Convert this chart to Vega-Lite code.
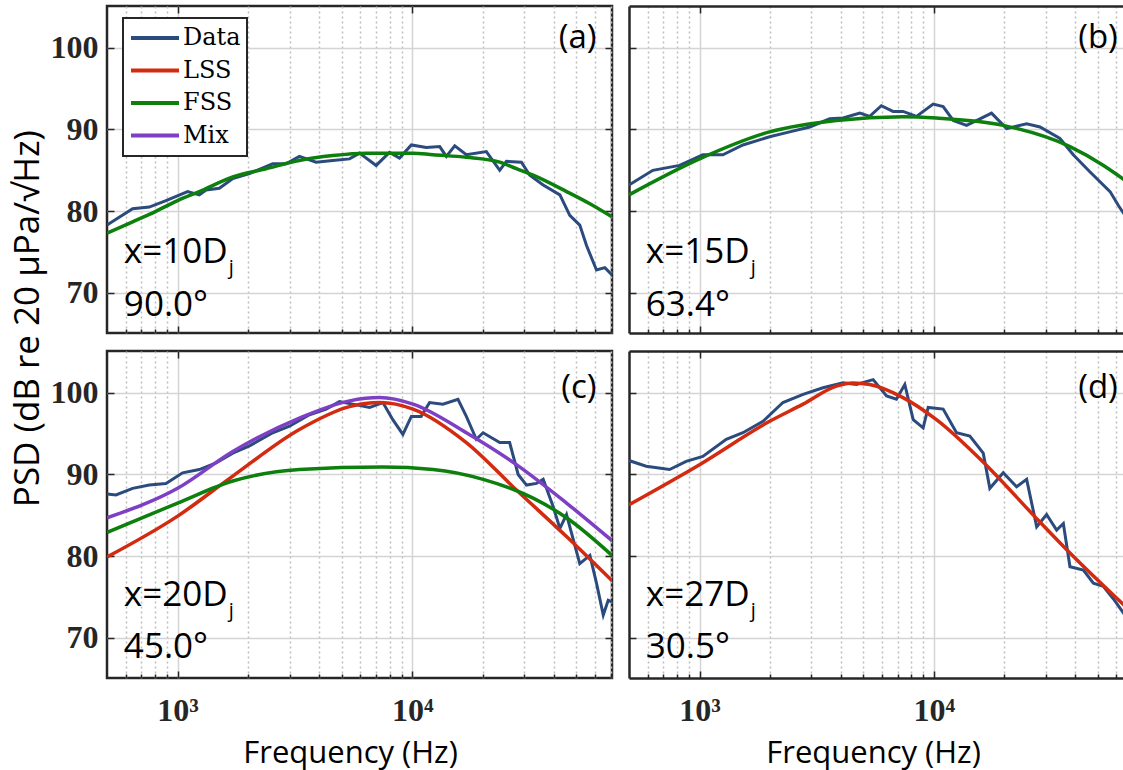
{
  "$schema": "https://vega.github.io/schema/vega-lite/v6.json",
  "padding": {"left": 10, "top": 4, "right": 0, "bottom": 0},
  "background": "white",
  "title": {"text": "PSD (dB re 20 μPa/√Hz)", "orient": "left", "anchor": "middle", "font": "Open Sans", "fontSize": 35, "fontWeight": "normal", "color": "black", "offset": 3, "dx": 68},
  "datasets": {
    "a": [
      {"s":"Data","f":500,"p":78.3},{"s":"Data","f":643,"p":80.3},{"s":"Data","f":757,"p":80.5},{"s":"Data","f":892,"p":81.3},{"s":"Data","f":1103,"p":82.4},{"s":"Data","f":1237,"p":82.0},{"s":"Data","f":1321,"p":82.6},{"s":"Data","f":1506,"p":82.8},{"s":"Data","f":1718,"p":84.0},{"s":"Data","f":2024,"p":84.6},{"s":"Data","f":2543,"p":85.8},{"s":"Data","f":2898,"p":85.8},{"s":"Data","f":3303,"p":86.7},{"s":"Data","f":3890,"p":86.0},{"s":"Data","f":4581,"p":86.2},{"s":"Data","f":5404,"p":86.4},{"s":"Data","f":5960,"p":87.1},{"s":"Data","f":7015,"p":85.6},{"s":"Data","f":7998,"p":87.2},{"s":"Data","f":8827,"p":86.5},{"s":"Data","f":9909,"p":88.1},{"s":"Data","f":11480,"p":87.8},{"s":"Data","f":13090,"p":87.9},{"s":"Data","f":13970,"p":86.7},{"s":"Data","f":15170,"p":88.0},{"s":"Data","f":17000,"p":86.9},{"s":"Data","f":20690,"p":87.3},{"s":"Data","f":23590,"p":85.0},{"s":"Data","f":25180,"p":86.1},{"s":"Data","f":29190,"p":86.0},{"s":"Data","f":31690,"p":84.4},{"s":"Data","f":36130,"p":83.2},{"s":"Data","f":42580,"p":82.0},{"s":"Data","f":46920,"p":79.5},{"s":"Data","f":51750,"p":78.3},{"s":"Data","f":55300,"p":75.8},{"s":"Data","f":60980,"p":72.8},{"s":"Data","f":66200,"p":73.1},{"s":"Data","f":71000,"p":72.2},
      {"s":"FSS","f":500,"p":77.3},{"s":"FSS","f":643,"p":78.7},{"s":"FSS","f":757,"p":79.6},{"s":"FSS","f":1000,"p":81.3},{"s":"FSS","f":1237,"p":82.4},{"s":"FSS","f":1718,"p":84.2},{"s":"FSS","f":2382,"p":85.2},{"s":"FSS","f":3303,"p":86.2},{"s":"FSS","f":4581,"p":86.8},{"s":"FSS","f":6362,"p":87.1},{"s":"FSS","f":10070,"p":87.1},{"s":"FSS","f":12250,"p":86.9},{"s":"FSS","f":17000,"p":86.6},{"s":"FSS","f":23590,"p":86.0},{"s":"FSS","f":27790,"p":85.2},{"s":"FSS","f":32750,"p":84.4},{"s":"FSS","f":45440,"p":82.4},{"s":"FSS","f":57150,"p":80.9},{"s":"FSS","f":71000,"p":79.3}
    ],
    "b": [
      {"s":"Data","f":500,"p":83.2},{"s":"Data","f":632,"p":85.0},{"s":"Data","f":822,"p":85.6},{"s":"Data","f":1033,"p":86.9},{"s":"Data","f":1258,"p":86.9},{"s":"Data","f":1532,"p":88.1},{"s":"Data","f":1991,"p":89.1},{"s":"Data","f":2425,"p":89.7},{"s":"Data","f":2953,"p":90.3},{"s":"Data","f":3596,"p":91.3},{"s":"Data","f":4101,"p":91.4},{"s":"Data","f":4832,"p":92.0},{"s":"Data","f":5325,"p":91.6},{"s":"Data","f":5971,"p":92.9},{"s":"Data","f":6694,"p":92.2},{"s":"Data","f":7388,"p":92.2},{"s":"Data","f":8433,"p":91.6},{"s":"Data","f":9934,"p":93.1},{"s":"Data","f":10960,"p":92.8},{"s":"Data","f":12100,"p":91.1},{"s":"Data","f":13800,"p":90.5},{"s":"Data","f":15740,"p":91.3},{"s":"Data","f":17630,"p":92.0},{"s":"Data","f":20450,"p":90.1},{"s":"Data","f":24900,"p":90.7},{"s":"Data","f":28390,"p":90.3},{"s":"Data","f":34540,"p":88.9},{"s":"Data","f":39370,"p":86.9},{"s":"Data","f":46430,"p":84.8},{"s":"Data","f":56520,"p":82.4},{"s":"Data","f":61340,"p":80.7},{"s":"Data","f":66100,"p":79.3},
      {"s":"FSS","f":500,"p":82.0},{"s":"FSS","f":1000,"p":86.4},{"s":"FSS","f":1991,"p":89.7},{"s":"FSS","f":3838,"p":91.1},{"s":"FSS","f":7388,"p":91.55},{"s":"FSS","f":10260,"p":91.4},{"s":"FSS","f":19780,"p":90.5},{"s":"FSS","f":38110,"p":87.9},{"s":"FSS","f":52980,"p":85.6},{"s":"FSS","f":66100,"p":83.7}
    ],
    "c": [
      {"s":"Data","f":500,"p":87.6},{"s":"Data","f":546,"p":87.5},{"s":"Data","f":643,"p":88.3},{"s":"Data","f":757,"p":88.7},{"s":"Data","f":892,"p":88.9},{"s":"Data","f":1050,"p":90.2},{"s":"Data","f":1237,"p":90.6},{"s":"Data","f":1458,"p":91.4},{"s":"Data","f":1718,"p":92.6},{"s":"Data","f":2024,"p":93.5},{"s":"Data","f":2543,"p":95.1},{"s":"Data","f":2997,"p":95.9},{"s":"Data","f":3646,"p":97.3},{"s":"Data","f":4296,"p":98.0},{"s":"Data","f":4897,"p":98.9},{"s":"Data","f":5584,"p":98.6},{"s":"Data","f":6580,"p":98.2},{"s":"Data","f":7498,"p":98.8},{"s":"Data","f":8262,"p":96.7},{"s":"Data","f":9120,"p":94.9},{"s":"Data","f":9909,"p":97.1},{"s":"Data","f":10910,"p":97.1},{"s":"Data","f":11850,"p":98.8},{"s":"Data","f":13510,"p":98.6},{"s":"Data","f":15660,"p":99.2},{"s":"Data","f":17000,"p":97.1},{"s":"Data","f":18750,"p":94.3},{"s":"Data","f":20040,"p":95.1},{"s":"Data","f":23590,"p":93.9},{"s":"Data","f":26000,"p":93.9},{"s":"Data","f":28270,"p":90.0},{"s":"Data","f":30690,"p":88.7},{"s":"Data","f":33830,"p":88.9},{"s":"Data","f":36130,"p":89.4},{"s":"Data","f":39810,"p":86.1},{"s":"Data","f":42580,"p":83.4},{"s":"Data","f":45440,"p":85.1},{"s":"Data","f":51750,"p":79.1},{"s":"Data","f":57150,"p":80.1},{"s":"Data","f":60980,"p":76.7},{"s":"Data","f":65170,"p":72.8},{"s":"Data","f":68410,"p":74.6},{"s":"Data","f":71000,"p":74.4},
      {"s":"LSS","f":500,"p":79.9},{"s":"LSS","f":1000,"p":84.9},{"s":"LSS","f":1718,"p":89.8},{"s":"LSS","f":3303,"p":95.5},{"s":"LSS","f":5404,"p":98.3},{"s":"LSS","f":7258,"p":98.8},{"s":"LSS","f":10070,"p":98.0},{"s":"LSS","f":17000,"p":93.9},{"s":"LSS","f":27790,"p":88.1},{"s":"LSS","f":45440,"p":82.4},{"s":"LSS","f":71000,"p":77.0},
      {"s":"FSS","f":500,"p":82.9},{"s":"FSS","f":1000,"p":86.5},{"s":"FSS","f":1718,"p":89.2},{"s":"FSS","f":3303,"p":90.6},{"s":"FSS","f":7498,"p":90.9},{"s":"FSS","f":12250,"p":90.6},{"s":"FSS","f":20040,"p":89.4},{"s":"FSS","f":32750,"p":87.1},{"s":"FSS","f":45440,"p":84.7},{"s":"FSS","f":71000,"p":80.1},
      {"s":"Mix","f":500,"p":84.7},{"s":"Mix","f":1000,"p":88.3},{"s":"Mix","f":1718,"p":92.8},{"s":"Mix","f":3303,"p":96.9},{"s":"Mix","f":5404,"p":99.0},{"s":"Mix","f":7258,"p":99.4},{"s":"Mix","f":10070,"p":98.6},{"s":"Mix","f":17000,"p":95.1},{"s":"Mix","f":27790,"p":91.2},{"s":"Mix","f":45440,"p":86.5},{"s":"Mix","f":71000,"p":81.9}
    ],
    "d": [
      {"s":"Data","f":500,"p":91.7},{"s":"Data","f":592,"p":91.0},{"s":"Data","f":745,"p":90.6},{"s":"Data","f":877,"p":91.6},{"s":"Data","f":1033,"p":92.2},{"s":"Data","f":1300,"p":94.3},{"s":"Data","f":1532,"p":95.1},{"s":"Data","f":1866,"p":96.5},{"s":"Data","f":2270,"p":98.8},{"s":"Data","f":2767,"p":99.8},{"s":"Data","f":3366,"p":100.6},{"s":"Data","f":4101,"p":101.2},{"s":"Data","f":4672,"p":101.0},{"s":"Data","f":5510,"p":101.6},{"s":"Data","f":6285,"p":99.6},{"s":"Data","f":6924,"p":99.2},{"s":"Data","f":7518,"p":101.0},{"s":"Data","f":8164,"p":96.7},{"s":"Data","f":9003,"p":95.7},{"s":"Data","f":9458,"p":98.2},{"s":"Data","f":10960,"p":98.0},{"s":"Data","f":12500,"p":95.1},{"s":"Data","f":14250,"p":94.7},{"s":"Data","f":16250,"p":92.6},{"s":"Data","f":17340,"p":88.3},{"s":"Data","f":19780,"p":90.2},{"s":"Data","f":22550,"p":88.5},{"s":"Data","f":24900,"p":89.4},{"s":"Data","f":27480,"p":83.6},{"s":"Data","f":30290,"p":85.1},{"s":"Data","f":33430,"p":83.2},{"s":"Data","f":35710,"p":84.0},{"s":"Data","f":38110,"p":78.7},{"s":"Data","f":43480,"p":78.3},{"s":"Data","f":47980,"p":76.7},{"s":"Data","f":52980,"p":76.3},{"s":"Data","f":58340,"p":74.8},{"s":"Data","f":66100,"p":72.6},
      {"s":"LSS","f":500,"p":86.3},{"s":"LSS","f":1000,"p":91.2},{"s":"LSS","f":1991,"p":96.5},{"s":"LSS","f":2767,"p":98.6},{"s":"LSS","f":3838,"p":100.8},{"s":"LSS","f":4517,"p":101.2},{"s":"LSS","f":5325,"p":101.0},{"s":"LSS","f":7388,"p":99.4},{"s":"LSS","f":10260,"p":96.7},{"s":"LSS","f":16790,"p":91.1},{"s":"LSS","f":27480,"p":84.6},{"s":"LSS","f":38110,"p":80.4},{"s":"LSS","f":66100,"p":73.8}
    ],
    "notes": [
      {"k":"a","pos":"x=10D","sub":"j","ang":"90.0°","tag":"(a)"},
      {"k":"b","pos":"x=15D","sub":"j","ang":"63.4°","tag":"(b)"},
      {"k":"c","pos":"x=20D","sub":"j","ang":"45.0°","tag":"(c)"},
      {"k":"d","pos":"x=27D","sub":"j","ang":"30.5°","tag":"(d)"}
    ]
  },
  "spacing": 14,
  "vconcat": [
    {
      "spacing": 14,
      "resolve": {"legend": {"color": "independent"}},
      "hconcat": [
        {
          "width": 505, "height": 327,
          "view": {"stroke": "#262626", "strokeWidth": 2.5},
          "resolve": {"axis": {"x": "independent", "y": "independent"}},
          "layer": [
            {
              "data": {"name": "a"},
              "transform": [{"filter": "datum.s === 'Data'"}],
              "mark": {"type": "line", "strokeWidth": 3, "clip": true},
              "encoding": {
                "x": {"field": "f", "type": "quantitative", "scale": {"type": "log", "domain": [500, 71000], "nice": false},
                  "axis": {"orient": "bottom", "values": [1000, 10000], "grid": true, "gridColor": "#d4d4d4", "gridWidth": 1.5, "tickSize": -7, "labels": false, "domain": false, "title": null}},
                "y": {"field": "p", "type": "quantitative", "scale": {"domain": [65.1, 105.1], "nice": false, "zero": false},
                  "axis": {"orient": "left", "values": [70, 80, 90, 100], "grid": true, "gridColor": "#d4d4d4", "gridWidth": 1.5, "tickSize": -7, "labels": true, "labelFont": "Liberation Serif", "labelFontWeight": "bold", "labelFontSize": 32, "labelPadding": 16, "domain": false, "title": null}},
                "color": {"field": "s", "type": "nominal",
                  "scale": {"domain": ["Data", "LSS", "FSS", "Mix"], "range": ["#2b4a7e", "#d22b10", "#0c7f0c", "#7d3fc4"]},
                  "legend": {"orient": "none", "legendX": 16, "legendY": 12, "title": null, "symbolType": "stroke", "symbolStrokeWidth": 4, "symbolSize": 2304, "clipHeight": 28, "rowPadding": 4.5, "labelFont": "DejaVu Serif", "labelFontSize": 24, "labelColor": "black", "labelOffset": 2, "strokeColor": "#262626", "fillColor": "white", "padding": 6, "cornerRadius": 0}}
              }
            },
            {
              "data": {"name": "a"},
              "transform": [{"filter": "datum.s !== 'Data'"}],
              "mark": {"type": "line", "strokeWidth": 3.5, "clip": true, "interpolate": "monotone"},
              "encoding": {
                "x": {"field": "f", "type": "quantitative", "scale": {"type": "log", "domain": [500, 71000], "nice": false},
                  "axis": {"orient": "bottom", "values": [600, 700, 800, 900, 2000, 3000, 4000, 5000, 6000, 7000, 8000, 9000, 20000, 30000, 40000, 50000, 60000, 70000], "grid": true, "gridColor": "#bdbdbd", "gridDash": [2, 3], "gridWidth": 1.5, "tickSize": -4, "labels": false, "domain": false, "title": null}},
                "y": {"field": "p", "type": "quantitative", "scale": {"domain": [65.1, 105.1], "nice": false, "zero": false},
                  "axis": {"orient": "right", "values": [70, 80, 90, 100], "grid": false, "tickSize": -7, "labels": false, "domain": false, "title": null}},
                "color": {"field": "s", "type": "nominal", "scale": {"domain": ["Data", "LSS", "FSS", "Mix"], "range": ["#2b4a7e", "#d22b10", "#0c7f0c", "#7d3fc4"]}, "legend": null}
              }
            },
            {
              "data": {"values": []},
              "mark": {"type": "point"},
              "encoding": {
                "x": {"field": "f", "type": "quantitative", "scale": {"type": "log", "domain": [500, 71000], "nice": false},
                  "axis": {"orient": "top", "values": [1000, 10000], "grid": false, "tickSize": -7, "labels": false, "domain": false, "title": null}},
                "y": {"field": "p", "type": "quantitative", "scale": {"domain": [65.1, 105.1], "nice": false, "zero": false}, "axis": null}
              }
            },
            {
              "data": {"name": "notes"},
              "transform": [{"filter": "datum.k === 'a'"}],
              "layer": [
                {"mark": {"type": "text", "font": "Open Sans", "fontSize": 35, "align": "left", "baseline": "alphabetic", "color": "black"},
                  "encoding": {"x": {"datum": 590, "type": "quantitative", "axis": null}, "y": {"datum": 73.7, "type": "quantitative", "axis": null}, "text": {"field": "pos"}}},
                {"mark": {"type": "text", "font": "Open Sans", "fontSize": 20, "align": "left", "baseline": "alphabetic", "color": "black", "dx": 105, "dy": 11},
                  "encoding": {"x": {"datum": 590, "type": "quantitative", "axis": null}, "y": {"datum": 73.7, "type": "quantitative", "axis": null}, "text": {"field": "sub"}}},
                {"mark": {"type": "text", "font": "Open Sans", "fontSize": 35, "align": "left", "baseline": "alphabetic", "color": "black"},
                  "encoding": {"x": {"datum": 590, "type": "quantitative", "axis": null}, "y": {"datum": 67.2, "type": "quantitative", "axis": null}, "text": {"field": "ang"}}},
                {"mark": {"type": "text", "font": "Open Sans", "fontSize": 33, "align": "right", "baseline": "alphabetic", "color": "black"},
                  "encoding": {"x": {"datum": 61000, "type": "quantitative", "axis": null}, "y": {"datum": 100.0, "type": "quantitative", "axis": null}, "text": {"field": "tag"}}}
              ]
            }
          ]
        },
        {
          "width": 497, "height": 327,
          "view": {"stroke": null},
          "resolve": {"axis": {"x": "independent", "y": "independent"}},
          "layer": [
            {
              "data": {"name": "b"},
              "transform": [{"filter": "datum.s === 'Data'"}],
              "mark": {"type": "line", "strokeWidth": 3, "clip": true},
              "encoding": {
                "x": {"field": "f", "type": "quantitative", "scale": {"type": "log", "domain": [500, 66100], "nice": false},
                  "axis": {"orient": "bottom", "values": [1000, 10000], "grid": true, "gridColor": "#d4d4d4", "gridWidth": 1.5, "tickSize": -7, "labels": false, "domain": true, "domainColor": "#262626", "domainWidth": 2.5, "title": null}},
                "y": {"field": "p", "type": "quantitative", "scale": {"domain": [65.1, 105.1], "nice": false, "zero": false},
                  "axis": {"orient": "left", "values": [70, 80, 90, 100], "grid": true, "gridColor": "#d4d4d4", "gridWidth": 1.5, "tickSize": -7, "labels": false, "domain": true, "domainColor": "#262626", "domainWidth": 2.5, "title": null}},
                "color": {"field": "s", "type": "nominal", "scale": {"domain": ["Data", "LSS", "FSS", "Mix"], "range": ["#2b4a7e", "#d22b10", "#0c7f0c", "#7d3fc4"]}, "legend": null}
              }
            },
            {
              "data": {"name": "b"},
              "transform": [{"filter": "datum.s !== 'Data'"}],
              "mark": {"type": "line", "strokeWidth": 3.5, "clip": true, "interpolate": "monotone"},
              "encoding": {
                "x": {"field": "f", "type": "quantitative", "scale": {"type": "log", "domain": [500, 66100], "nice": false},
                  "axis": {"orient": "bottom", "values": [600, 700, 800, 900, 2000, 3000, 4000, 5000, 6000, 7000, 8000, 9000, 20000, 30000, 40000, 50000, 60000], "grid": true, "gridColor": "#bdbdbd", "gridDash": [2, 3], "gridWidth": 1.5, "tickSize": -4, "labels": false, "domain": false, "title": null}},
                "y": {"field": "p", "type": "quantitative", "scale": {"domain": [65.1, 105.1], "nice": false, "zero": false}, "axis": null},
                "color": {"field": "s", "type": "nominal", "scale": {"domain": ["Data", "LSS", "FSS", "Mix"], "range": ["#2b4a7e", "#d22b10", "#0c7f0c", "#7d3fc4"]}, "legend": null}
              }
            },
            {
              "data": {"values": []},
              "mark": {"type": "point"},
              "encoding": {
                "x": {"field": "f", "type": "quantitative", "scale": {"type": "log", "domain": [500, 66100], "nice": false},
                  "axis": {"orient": "top", "values": [1000, 10000], "grid": false, "tickSize": -7, "labels": false, "domain": true, "domainColor": "#262626", "domainWidth": 2.5, "title": null}},
                "y": {"field": "p", "type": "quantitative", "scale": {"domain": [65.1, 105.1], "nice": false, "zero": false}, "axis": null}
              }
            },
            {
              "data": {"name": "notes"},
              "transform": [{"filter": "datum.k === 'b'"}],
              "layer": [
                {"mark": {"type": "text", "font": "Open Sans", "fontSize": 35, "align": "left", "baseline": "alphabetic", "color": "black"},
                  "encoding": {"x": {"datum": 590, "type": "quantitative", "axis": null}, "y": {"datum": 73.7, "type": "quantitative", "axis": null}, "text": {"field": "pos"}}},
                {"mark": {"type": "text", "font": "Open Sans", "fontSize": 20, "align": "left", "baseline": "alphabetic", "color": "black", "dx": 105, "dy": 11},
                  "encoding": {"x": {"datum": 590, "type": "quantitative", "axis": null}, "y": {"datum": 73.7, "type": "quantitative", "axis": null}, "text": {"field": "sub"}}},
                {"mark": {"type": "text", "font": "Open Sans", "fontSize": 35, "align": "left", "baseline": "alphabetic", "color": "black"},
                  "encoding": {"x": {"datum": 590, "type": "quantitative", "axis": null}, "y": {"datum": 67.2, "type": "quantitative", "axis": null}, "text": {"field": "ang"}}},
                {"mark": {"type": "text", "font": "Open Sans", "fontSize": 33, "align": "right", "baseline": "alphabetic", "color": "black"},
                  "encoding": {"x": {"datum": 61000, "type": "quantitative", "axis": null}, "y": {"datum": 100.0, "type": "quantitative", "axis": null}, "text": {"field": "tag"}}}
              ]
            }
          ]
        }
      ]
    },
    {
      "spacing": 14,
      "hconcat": [
        {
          "width": 505, "height": 327,
          "view": {"stroke": "#262626", "strokeWidth": 2.5},
          "resolve": {"axis": {"x": "independent", "y": "independent"}},
          "layer": [
            {
              "data": {"name": "c"},
              "transform": [{"filter": "datum.s === 'Data'"}],
              "mark": {"type": "line", "strokeWidth": 3, "clip": true},
              "encoding": {
                "x": {"field": "f", "type": "quantitative", "scale": {"type": "log", "domain": [500, 71000], "nice": false},
                  "axis": {"orient": "bottom", "values": [1000, 10000], "grid": true, "gridColor": "#d4d4d4", "gridWidth": 1.5, "tickSize": -7, "labels": true, "labelExpr": "datum.value < 5000 ? '10³' : '10⁴'", "labelFont": "Liberation Serif", "labelFontWeight": "bold", "labelFontSize": 32, "labelPadding": 24, "domain": false,
                    "title": "Frequency (Hz)", "titleFont": "Open Sans", "titleFontSize": 31, "titleFontWeight": "normal", "titleColor": "black", "titleX": 243, "titleY": 84, "titleBaseline": "alphabetic", "titleAlign": "center"}},
                "y": {"field": "p", "type": "quantitative", "scale": {"domain": [65.1, 105.1], "nice": false, "zero": false},
                  "axis": {"orient": "left", "values": [70, 80, 90, 100], "grid": true, "gridColor": "#d4d4d4", "gridWidth": 1.5, "tickSize": -7, "labels": true, "labelFont": "Liberation Serif", "labelFontWeight": "bold", "labelFontSize": 32, "labelPadding": 16, "domain": false, "title": null}},
                "color": {"field": "s", "type": "nominal", "scale": {"domain": ["Data", "LSS", "FSS", "Mix"], "range": ["#2b4a7e", "#d22b10", "#0c7f0c", "#7d3fc4"]}, "legend": null}
              }
            },
            {
              "data": {"name": "c"},
              "transform": [{"filter": "datum.s !== 'Data'"}],
              "mark": {"type": "line", "strokeWidth": 3.5, "clip": true, "interpolate": "monotone"},
              "encoding": {
                "x": {"field": "f", "type": "quantitative", "scale": {"type": "log", "domain": [500, 71000], "nice": false},
                  "axis": {"orient": "bottom", "values": [600, 700, 800, 900, 2000, 3000, 4000, 5000, 6000, 7000, 8000, 9000, 20000, 30000, 40000, 50000, 60000, 70000], "grid": true, "gridColor": "#bdbdbd", "gridDash": [2, 3], "gridWidth": 1.5, "tickSize": -4, "labels": false, "domain": false, "title": null}},
                "y": {"field": "p", "type": "quantitative", "scale": {"domain": [65.1, 105.1], "nice": false, "zero": false},
                  "axis": {"orient": "right", "values": [70, 80, 90, 100], "grid": false, "tickSize": -7, "labels": false, "domain": false, "title": null}},
                "color": {"field": "s", "type": "nominal", "scale": {"domain": ["Data", "LSS", "FSS", "Mix"], "range": ["#2b4a7e", "#d22b10", "#0c7f0c", "#7d3fc4"]}, "legend": null}
              }
            },
            {
              "data": {"values": []},
              "mark": {"type": "point"},
              "encoding": {
                "x": {"field": "f", "type": "quantitative", "scale": {"type": "log", "domain": [500, 71000], "nice": false},
                  "axis": {"orient": "top", "values": [1000, 10000], "grid": false, "tickSize": -7, "labels": false, "domain": false, "title": null}},
                "y": {"field": "p", "type": "quantitative", "scale": {"domain": [65.1, 105.1], "nice": false, "zero": false}, "axis": null}
              }
            },
            {
              "data": {"name": "notes"},
              "transform": [{"filter": "datum.k === 'c'"}],
              "layer": [
                {"mark": {"type": "text", "font": "Open Sans", "fontSize": 35, "align": "left", "baseline": "alphabetic", "color": "black"},
                  "encoding": {"x": {"datum": 590, "type": "quantitative", "axis": null}, "y": {"datum": 73.9, "type": "quantitative", "axis": null}, "text": {"field": "pos"}}},
                {"mark": {"type": "text", "font": "Open Sans", "fontSize": 20, "align": "left", "baseline": "alphabetic", "color": "black", "dx": 105, "dy": 11},
                  "encoding": {"x": {"datum": 590, "type": "quantitative", "axis": null}, "y": {"datum": 73.9, "type": "quantitative", "axis": null}, "text": {"field": "sub"}}},
                {"mark": {"type": "text", "font": "Open Sans", "fontSize": 35, "align": "left", "baseline": "alphabetic", "color": "black"},
                  "encoding": {"x": {"datum": 590, "type": "quantitative", "axis": null}, "y": {"datum": 67.6, "type": "quantitative", "axis": null}, "text": {"field": "ang"}}},
                {"mark": {"type": "text", "font": "Open Sans", "fontSize": 33, "align": "right", "baseline": "alphabetic", "color": "black"},
                  "encoding": {"x": {"datum": 61000, "type": "quantitative", "axis": null}, "y": {"datum": 99.3, "type": "quantitative", "axis": null}, "text": {"field": "tag"}}}
              ]
            }
          ]
        },
        {
          "width": 497, "height": 327,
          "view": {"stroke": null},
          "resolve": {"axis": {"x": "independent", "y": "independent"}},
          "layer": [
            {
              "data": {"name": "d"},
              "transform": [{"filter": "datum.s === 'Data'"}],
              "mark": {"type": "line", "strokeWidth": 3, "clip": true},
              "encoding": {
                "x": {"field": "f", "type": "quantitative", "scale": {"type": "log", "domain": [500, 66100], "nice": false},
                  "axis": {"orient": "bottom", "values": [1000, 10000], "grid": true, "gridColor": "#d4d4d4", "gridWidth": 1.5, "tickSize": -7, "labels": true, "labelExpr": "datum.value < 5000 ? '10³' : '10⁴'", "labelFont": "Liberation Serif", "labelFontWeight": "bold", "labelFontSize": 32, "labelPadding": 24, "domain": true, "domainColor": "#262626", "domainWidth": 2.5,
                    "title": "Frequency (Hz)", "titleFont": "Open Sans", "titleFontSize": 31, "titleFontWeight": "normal", "titleColor": "black", "titleX": 244, "titleY": 84, "titleBaseline": "alphabetic", "titleAlign": "center"}},
                "y": {"field": "p", "type": "quantitative", "scale": {"domain": [65.1, 105.1], "nice": false, "zero": false},
                  "axis": {"orient": "left", "values": [70, 80, 90, 100], "grid": true, "gridColor": "#d4d4d4", "gridWidth": 1.5, "tickSize": -7, "labels": false, "domain": true, "domainColor": "#262626", "domainWidth": 2.5, "title": null}},
                "color": {"field": "s", "type": "nominal", "scale": {"domain": ["Data", "LSS", "FSS", "Mix"], "range": ["#2b4a7e", "#d22b10", "#0c7f0c", "#7d3fc4"]}, "legend": null}
              }
            },
            {
              "data": {"name": "d"},
              "transform": [{"filter": "datum.s !== 'Data'"}],
              "mark": {"type": "line", "strokeWidth": 3.5, "clip": true, "interpolate": "monotone"},
              "encoding": {
                "x": {"field": "f", "type": "quantitative", "scale": {"type": "log", "domain": [500, 66100], "nice": false},
                  "axis": {"orient": "bottom", "values": [600, 700, 800, 900, 2000, 3000, 4000, 5000, 6000, 7000, 8000, 9000, 20000, 30000, 40000, 50000, 60000], "grid": true, "gridColor": "#bdbdbd", "gridDash": [2, 3], "gridWidth": 1.5, "tickSize": -4, "labels": false, "domain": false, "title": null}},
                "y": {"field": "p", "type": "quantitative", "scale": {"domain": [65.1, 105.1], "nice": false, "zero": false}, "axis": null},
                "color": {"field": "s", "type": "nominal", "scale": {"domain": ["Data", "LSS", "FSS", "Mix"], "range": ["#2b4a7e", "#d22b10", "#0c7f0c", "#7d3fc4"]}, "legend": null}
              }
            },
            {
              "data": {"values": []},
              "mark": {"type": "point"},
              "encoding": {
                "x": {"field": "f", "type": "quantitative", "scale": {"type": "log", "domain": [500, 66100], "nice": false},
                  "axis": {"orient": "top", "values": [1000, 10000], "grid": false, "tickSize": -7, "labels": false, "domain": true, "domainColor": "#262626", "domainWidth": 2.5, "title": null}},
                "y": {"field": "p", "type": "quantitative", "scale": {"domain": [65.1, 105.1], "nice": false, "zero": false}, "axis": null}
              }
            },
            {
              "data": {"name": "notes"},
              "transform": [{"filter": "datum.k === 'd'"}],
              "layer": [
                {"mark": {"type": "text", "font": "Open Sans", "fontSize": 35, "align": "left", "baseline": "alphabetic", "color": "black"},
                  "encoding": {"x": {"datum": 590, "type": "quantitative", "axis": null}, "y": {"datum": 73.9, "type": "quantitative", "axis": null}, "text": {"field": "pos"}}},
                {"mark": {"type": "text", "font": "Open Sans", "fontSize": 20, "align": "left", "baseline": "alphabetic", "color": "black", "dx": 105, "dy": 11},
                  "encoding": {"x": {"datum": 590, "type": "quantitative", "axis": null}, "y": {"datum": 73.9, "type": "quantitative", "axis": null}, "text": {"field": "sub"}}},
                {"mark": {"type": "text", "font": "Open Sans", "fontSize": 35, "align": "left", "baseline": "alphabetic", "color": "black"},
                  "encoding": {"x": {"datum": 590, "type": "quantitative", "axis": null}, "y": {"datum": 67.6, "type": "quantitative", "axis": null}, "text": {"field": "ang"}}},
                {"mark": {"type": "text", "font": "Open Sans", "fontSize": 33, "align": "right", "baseline": "alphabetic", "color": "black"},
                  "encoding": {"x": {"datum": 61000, "type": "quantitative", "axis": null}, "y": {"datum": 99.3, "type": "quantitative", "axis": null}, "text": {"field": "tag"}}}
              ]
            }
          ]
        }
      ]
    }
  ],
  "config": {
    "axis": {"minExtent": 0, "tickColor": "#262626", "tickWidth": 1.5, "labelColor": "#262626", "gridOpacity": 1},
    "axisX": {"minExtent": 0},
    "axisY": {"minExtent": 0},
    "legend": {"strokeWidth": 2}
  }
}
